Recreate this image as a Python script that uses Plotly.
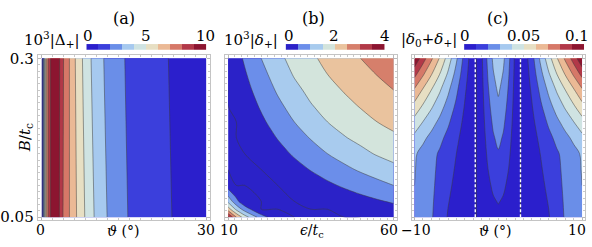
import plotly.graph_objects as go

# ---------------- data ----------------
# panel (a): 10^3 |Delta_+| vs theta (deg) and B/t_c
theta_a = [0, 0.25, 0.5, 0.75, 1, 1.5, 2, 2.5, 3, 3.5, 4, 5, 6, 7, 8, 9, 10, 11, 12,
           14, 16, 18, 20, 22, 24, 26, 28, 30]
B_a = [0.05, 0.3]
z_a_low = [0, 1.5, 4, 6, 7.5, 8.8, 9.6, 9.8, 9.4, 8.5, 7.85, 7.05, 6.25, 5.55, 4.9, 4.25,
           3.8, 3.35, 2.97, 2.4, 1.93, 1.68, 1.45, 1.2, 0.97, 0.85, 0.72, 0.62]
z_a_high = [0, 1.5, 4, 6, 7.5, 8.8, 9.6, 9.8, 9.4, 8.66, 7.98, 7.05, 6.1, 5.3, 4.6, 4.0,
            3.55, 3.1, 2.78, 2.2, 1.85, 1.6, 1.36, 1.12, 0.9, 0.8, 0.7, 0.6]

# panel (b): 10^3 |delta_+| vs eps/t_c and B/t_c
eps_b = [10, 12.5, 15, 20, 25, 30, 35, 40, 45, 50, 55, 60]
B_b = [0.05, 0.0625, 0.075, 0.1, 0.125, 0.15, 0.175, 0.2, 0.225, 0.25, 0.275, 0.3]
z_b_r00 = [3.61, 2.51, 1.745, 0.746, 0.117, 0, 0, 0, 0, 0, 0.044, 0.118]
z_b_r01 = [2.27, 1.38, 0.774, 0, 0, 0, 0, 0, 0.062, 0.154, 0.246, 0.338]
z_b_r02 = [1.37, 0.634, 0.125, 0, 0, 0, 0.007, 0.118, 0.228, 0.338, 0.448, 0.559]
z_b_r03 = [0.248, 0, 0, 0, 0, 0.118, 0.265, 0.412, 0.559, 0.706, 0.853, 1.0]
z_b_r04 = [0, 0, 0, 0, 0.154, 0.338, 0.522, 0.706, 0.89, 1.062, 1.219, 1.375]
z_b_r05 = [0, 0, 0, 0.118, 0.338, 0.559, 0.779, 1.0, 1.188, 1.375, 1.542, 1.667]
z_b_r06 = [0, 0, 0.007, 0.265, 0.522, 0.779, 1.031, 1.25, 1.469, 1.625, 1.771, 1.917]
z_b_r07 = [0, 0, 0.118, 0.412, 0.706, 1.0, 1.25, 1.5, 1.667, 1.833, 2.0, 2.125]
z_b_r08 = [0, 0.062, 0.228, 0.559, 0.89, 1.188, 1.469, 1.667, 1.854, 2.031, 2.172, 2.312]
z_b_r09 = [0, 0.154, 0.338, 0.706, 1.062, 1.375, 1.625, 1.833, 2.031, 2.188, 2.344, 2.5]
z_b_r10 = [0.044, 0.246, 0.448, 0.853, 1.219, 1.542, 1.771, 2.0, 2.172, 2.344, 2.515, 2.675]
z_b_r11 = [0.118, 0.338, 0.559, 1.0, 1.375, 1.667, 1.917, 2.125, 2.312, 2.5, 2.675, 2.85]

# panel (c): |delta_0 + delta_+| vs theta (deg) and B/t_c
theta_c = [-10, -9, -8, -7, -6, -5, -4, -3.25, -2.65, -2, -1.25, -0.6, 0,
           0.6, 1.25, 2, 2.65, 3.25, 4, 5, 6, 7, 8, 9, 10]
B_c = [0.05, 0.075, 0.1, 0.125, 0.15, 0.175, 0.2, 0.225, 0.25, 0.275, 0.3]
z_c_r00 = [0.029,0.0255,0.021,0.0152,0.0093,0.0058,0.0028,0.001,0,0.00165,0.0045,0.00645,0.0075,0.00645,0.0045,0.00165,0,0.001,0.0028,0.0058,0.0093,0.0152,0.021,0.0255,0.029]
z_c_r01 = [0.0295,0.026,0.0215,0.016,0.0105,0.0067,0.0034,0.0013,0,0.00231,0.0063,0.00903,0.0105,0.00903,0.0063,0.00231,0,0.0013,0.0034,0.0067,0.0105,0.016,0.0215,0.026,0.0295]
z_c_r02 = [0.03,0.0262,0.022,0.017,0.0118,0.0078,0.004,0.0016,0,0.00295,0.00804,0.01152,0.0134,0.01152,0.00804,0.00295,0,0.0016,0.004,0.0078,0.0118,0.017,0.022,0.0262,0.03]
z_c_r03 = [0.0305,0.0265,0.0224,0.0179,0.0131,0.0089,0.0046,0.0018,0,0.00359,0.00978,0.01402,0.0163,0.01402,0.00978,0.00359,0,0.0018,0.0046,0.0089,0.0131,0.0179,0.0224,0.0265,0.0305]
z_c_r04 = [0.0313,0.0269,0.0229,0.0189,0.0145,0.01,0.0052,0.0021,0,0.00422,0.01152,0.01651,0.0192,0.01651,0.01152,0.00422,0,0.0021,0.0052,0.01,0.0145,0.0189,0.0229,0.0269,0.0313]
z_c_r05 = [0.0374,0.0322,0.0273,0.0225,0.0174,0.0119,0.0062,0.0025,0,0.00488,0.01332,0.01909,0.0222,0.01909,0.01332,0.00488,0,0.0025,0.0062,0.0119,0.0174,0.0225,0.0273,0.0322,0.0374]
z_c_r06 = [0.0464,0.0399,0.0339,0.0279,0.0215,0.0148,0.0076,0.0031,0,0.00554,0.01512,0.02167,0.0252,0.02167,0.01512,0.00554,0,0.0031,0.0076,0.0148,0.0215,0.0279,0.0339,0.0399,0.0464]
z_c_r07 = [0.0569,0.049,0.0416,0.0343,0.0264,0.0181,0.0094,0.0038,0,0.0062,0.01692,0.02425,0.0282,0.02425,0.01692,0.0062,0,0.0038,0.0094,0.0181,0.0264,0.0343,0.0416,0.049,0.0569]
z_c_r08 = [0.0685,0.0589,0.05,0.0412,0.0318,0.0218,0.0113,0.0045,0,0.00686,0.01872,0.02683,0.0312,0.02683,0.01872,0.00686,0,0.0045,0.0113,0.0218,0.0318,0.0412,0.05,0.0589,0.0685]
z_c_r09 = [0.0831,0.0715,0.0607,0.05,0.0386,0.0265,0.0137,0.0055,0,0.0075,0.02046,0.02933,0.0341,0.02933,0.02046,0.0075,0,0.0055,0.0137,0.0265,0.0386,0.05,0.0607,0.0715,0.0831]
z_c_r10 = [0.0985,0.0847,0.0719,0.0593,0.0457,0.0314,0.0162,0.0065,0,0.00814,0.0222,0.03182,0.037,0.03182,0.0222,0.00814,0,0.0065,0.0162,0.0314,0.0457,0.0593,0.0719,0.0847,0.0985]
dashed_theta = [-2.75, 2.65]

# colour bars (bin midpoints)
bar_a_mid = [0.5, 1.5, 2.5, 3.5, 4.5, 5.5, 6.5, 7.5, 8.5, 9.5]
bar_b_mid = [0.25, 0.75, 1.25, 1.75, 2.25, 2.75, 3.25, 3.75]
bar_c_mid = [0.005, 0.015, 0.025, 0.035, 0.045, 0.055, 0.065, 0.075, 0.085, 0.095]

# tick labels
xt_a, xl_a = [0, 30], ["0", "30"]
yt_a, yl_a = [0.05, 0.3], ["0.05", "0.3"]
xt_b, xl_b = [10, 60], ["10", "60"]
xt_c, xl_c = [-10, 10], ["\u221210", "10"]
bt_a, bl_a = [0, 5, 10], ["0", "5", "10"]
bt_b, bl_b = [0, 2, 4], ["0", "2", "4"]
bt_c, bl_c = [0, 0.05, 0.1], ["0", "0.05", "0.1"]

colors10 = ["#2b1fcc", "#3b3fdc", "#6a8ee8", "#a6c9ef", "#cfe3e2",
            "#e7dfc3", "#ebb995", "#d67868", "#b23848", "#8c1530"]
colors8 = ["#2b22c8", "#6b8eea", "#a8cbee", "#d3e4dc",
           "#eac39e", "#d67f6b", "#b23a48", "#8c1530"]


def stepped(cols):
    n = len(cols)
    cs = []
    for i, c in enumerate(cols):
        cs.append([i / n, c])
        cs.append([(i + 1) / n, c])
    return cs


CS10 = stepped(colors10)
CS8 = stepped(colors8)
FONT = "DejaVu Serif"
LINE = dict(color="rgba(60,60,60,0.7)", width=0.7, smoothing=0.9)

W, H = 592, 247


def px(x):
    return x / W


def py(y):
    return 1 - y / H


fig = go.Figure()

fig.add_trace(go.Contour(
    x=theta_a, y=B_a, z=[z_a_low, z_a_high], xaxis="x", yaxis="y",
    colorscale=CS10, zmin=0, zmax=10, showscale=False,
    contours=dict(start=0, end=10, size=1, coloring="fill"), line=LINE))

fig.add_trace(go.Contour(
    x=eps_b, y=B_b,
    z=[z_b_r00, z_b_r01, z_b_r02, z_b_r03, z_b_r04, z_b_r05,
       z_b_r06, z_b_r07, z_b_r08, z_b_r09, z_b_r10, z_b_r11],
    xaxis="x2", yaxis="y2",
    colorscale=CS8, zmin=0, zmax=4, showscale=False,
    contours=dict(start=0, end=4, size=0.5, coloring="fill"), line=LINE))

fig.add_trace(go.Contour(
    x=theta_c, y=B_c,
    z=[z_c_r00, z_c_r01, z_c_r02, z_c_r03, z_c_r04, z_c_r05,
       z_c_r06, z_c_r07, z_c_r08, z_c_r09, z_c_r10],
    xaxis="x3", yaxis="y3",
    colorscale=CS10, zmin=0, zmax=0.1, showscale=False,
    contours=dict(start=0, end=0.1, size=0.01, coloring="fill"), line=LINE))

for t in dashed_theta:
    fig.add_trace(go.Scatter(x=[t, t], y=[B_c[0], B_c[-1]], mode="lines",
                             xaxis="x3", yaxis="y3", showlegend=False,
                             line=dict(color="white", width=1.4, dash="3px,2px")))

fig.add_trace(go.Heatmap(x=bar_a_mid, y=[0], z=[bar_a_mid], colorscale=CS10,
                         zmin=0, zmax=10, showscale=False, xaxis="x4", yaxis="y4"))
fig.add_trace(go.Heatmap(x=bar_b_mid, y=[0], z=[bar_b_mid], colorscale=CS8,
                         zmin=0, zmax=4, showscale=False, xaxis="x5", yaxis="y5"))
fig.add_trace(go.Heatmap(x=bar_c_mid, y=[0], z=[bar_c_mid], colorscale=CS10,
                         zmin=0, zmax=0.1, showscale=False, xaxis="x6", yaxis="y6"))

tickfont = dict(family=FONT, size=15, color="black")
frame = dict(showline=True, mirror="ticks", linecolor="#c4c4c4", linewidth=1,
             ticks="inside", ticklen=3, tickcolor="#b8b8b8", showgrid=False,
             zeroline=False, tickfont=tickfont, tickmode="array")

ydom = [py(225), py(52)]
yr = [0.05 - 0.0045, 0.3 + 0.0045]
minor_y = dict(ticks="inside", ticklen=2, dtick=0.01, tickcolor="#c8c8c8")

layout = dict(
    width=W, height=H, margin=dict(l=0, r=0, t=0, b=0), autosize=False,
    paper_bgcolor="white", plot_bgcolor="white", showlegend=False,
    font=dict(family=FONT, size=15, color="black"),
    xaxis=dict(frame, domain=[px(33), px(207)], range=[-0.723, 30.723],
               tickvals=xt_a, showticklabels=False, anchor="y",
               minor=dict(ticks="inside", ticklen=2, dtick=2, tickcolor="#c8c8c8")),
    yaxis=dict(frame, domain=ydom, range=yr, tickvals=yt_a, ticktext=yl_a, anchor="x",
               minor=minor_y),
    xaxis2=dict(frame, domain=[px(222), px(395)], range=[9.1, 60.9],
                tickvals=xt_b, showticklabels=False, anchor="y2",
                minor=dict(ticks="inside", ticklen=2, dtick=2, tickcolor="#c8c8c8")),
    yaxis2=dict(frame, domain=ydom, range=yr, tickvals=yt_a, showticklabels=False,
                anchor="x2", minor=minor_y),
    xaxis3=dict(frame, domain=[px(410), px(585)], range=[-10.355, 10.355],
                tickvals=xt_c, showticklabels=False, anchor="y3",
                minor=dict(ticks="inside", ticklen=2, dtick=1, tickcolor="#c8c8c8")),
    yaxis3=dict(frame, domain=ydom, range=yr, tickvals=yt_a, showticklabels=False,
                anchor="x3", minor=minor_y),
)

bar_y = [py(46), py(40)]
for i, (dom, rng) in enumerate([([px(82), px(203)], [0, 10]),
                                ([px(283), px(383)], [0, 4]),
                                ([px(463), px(584)], [0, 0.1])]):
    k = i + 4
    layout[f"xaxis{k}"] = dict(domain=dom, range=rng, visible=False, anchor=f"y{k}")
    layout[f"yaxis{k}"] = dict(domain=bar_y, range=[-0.5, 0.5], visible=False,
                               anchor=f"x{k}")

ann = []


def text(x, y, s, size=15, xanchor="center", angle=0):
    ann.append(dict(x=px(x), y=py(y), xref="paper", yref="paper", text=s,
                    showarrow=False, xanchor=xanchor, yanchor="middle",
                    textangle=angle, font=dict(family=FONT, size=size, color="black")))


# x tick labels (pixel positions of the data values on each axis)
for xpos, lab in zip([36, 203], xl_a):
    text(xpos, 235, lab, 14)
for xpos, lab in zip([226, 387], xl_b):
    text(xpos, 235, lab, 14)
text(415, 235, xl_c[0], 14)
text(588, 235, xl_c[1], 14, xanchor="right")
# colour bar tick labels
for xpos, lab in zip([84, 142, 202], bl_a):
    text(xpos, 32, lab)
for xpos, lab in zip([286, 332, 383], bl_b):
    text(xpos, 32, lab)
for xpos, lab in zip([464, 523], bl_c[:2]):
    text(xpos, 32, lab)
text(591, 32, bl_c[2], xanchor="right")

text(120, 13, "(a)", 16)
text(311, 13, "(b)", 16)
text(497, 13, "(c)", 16)
text(78, 35, "10<sup>3</sup>|Δ<sub>+</sub>|", 15, "right")
text(277, 35, "10<sup>3</sup>|<i>δ</i><sub>+</sub>|", 15, "right")
text(458, 35, "|<i>δ</i><sub>0</sub>+<i>δ</i><sub>+</sub>|", 15, "right")
text(119, 236, "<i>ϑ</i> (°)", 14)
text(310, 236, "<i>ϵ</i>/<i>t</i><sub>c</sub>", 14)
text(494, 236, "<i>ϑ</i> (°)", 14)
text(20, 138, "<i>B</i>/<i>t</i><sub>c</sub>", 15, angle=-90)
layout["annotations"] = ann

fig.update_layout(**layout)
fig.write_html(
    "out.html",
    config={"displayModeBar": False},
    post_script="document.body.style.margin='0';document.body.style.padding='0';")
